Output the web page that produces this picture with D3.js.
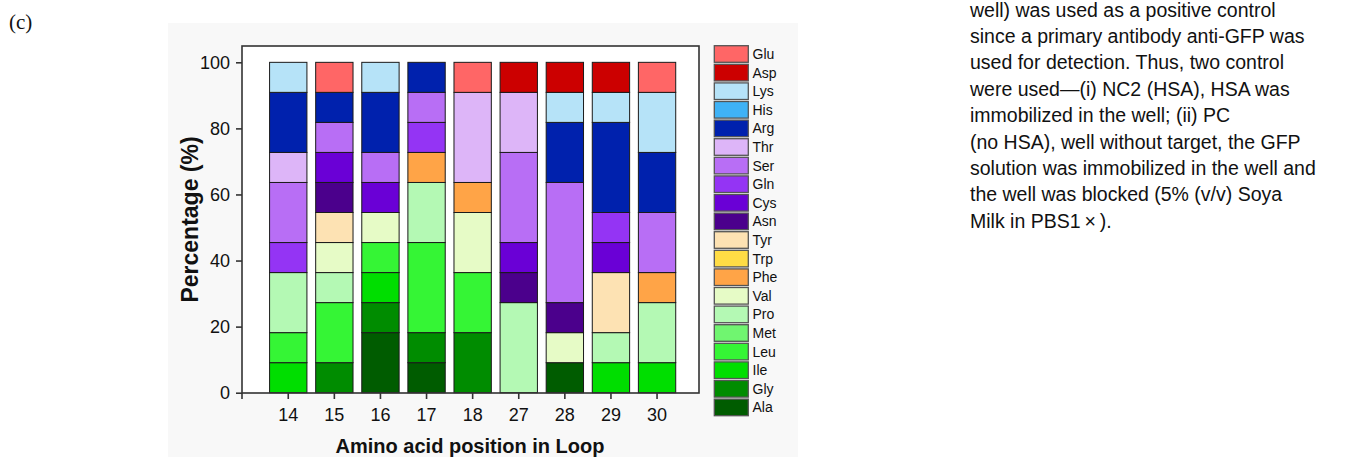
<!DOCTYPE html>
<html><head><meta charset="utf-8">
<script src="https://cdn.jsdelivr.net/npm/d3@7"></script>
<style>body{margin:0;background:#fff;}svg{display:block;}</style>
</head><body>
<svg id="c" width="1354" height="457"></svg>
<script>
// Categories (amino acid positions in loop)
const positions = ["14","15","16","17","18","27","28","29","30"];
// Legend order (top to bottom)
const aminoAcids = ["Glu","Asp","Lys","His","Arg","Thr","Ser","Gln","Cys","Asn","Tyr","Trp","Phe","Val","Pro","Met","Leu","Ile","Gly","Ala"];
const aaColors   = ["#ff6666","#cc0000","#b6e3f8","#3fb2f6","#0021ad","#ddb5f8","#b86ef5","#9434f4","#6a00d6","#4b008c","#fde2b3","#ffdc45","#ffa447","#e6fbc6","#b4f9b4","#70f570","#35f535","#00de00","#008c00","#005c00"];
const yTicks = [0,20,40,60,80,100];

// Percentage (%) per residue at each position
const Ala = [0,0,18.18,9.09,0,0,9.09,0,0];
const Gly = [0,9.09,9.09,9.09,18.18,0,0,0,0];
const Ile = [9.09,0,9.09,0,0,0,0,9.09,9.09];
const Leu = [9.09,18.18,9.09,27.27,18.18,0,0,0,0];
const Met = [0,0,0,0,0,0,0,0,0];
const Pro = [18.18,9.09,0,18.18,0,27.27,0,9.09,18.18];
const Val = [0,9.09,9.09,0,18.18,0,9.09,0,0];
const Phe = [0,0,0,9.09,9.09,0,0,0,9.09];
const Trp = [0,0,0,0,0,0,0,0,0];
const Tyr = [0,9.09,0,0,0,0,0,18.18,0];
const Asn = [0,9.09,0,0,0,9.09,9.09,0,0];
const Cys = [0,9.09,9.09,0,0,9.09,0,9.09,0];
const Gln = [9.09,0,0,9.09,0,0,0,9.09,0];
const Ser = [18.18,9.09,9.09,9.09,0,27.27,36.36,0,18.18];
const Thr = [9.09,0,0,0,27.27,18.18,0,0,0];
const Arg = [18.18,9.09,18.18,9.09,0,0,18.18,27.27,18.18];
const His = [0,0,0,0,0,0,0,0,0];
const Lys = [9.09,0,9.09,0,0,0,9.09,9.09,18.18];
const Asp = [0,0,0,0,0,9.09,9.09,9.09,0];
const Glu = [0,9.09,0,0,9.09,0,0,0,9.09];

const sideText = [
  "well) was used as a positive control",
  "since a primary antibody anti-GFP was",
  "used for detection. Thus, two control",
  "were used\u2014(i) NC2 (HSA), HSA was",
  "immobilized in the well; (ii) PC",
  "(no HSA), well without target, the GFP",
  "solution was immobilized in the well and",
  "the well was blocked (5% (v/v) Soya",
  "Milk in PBS1\u2009\u00d7\u2009)."
];

const seriesValues = {Ala,Gly,Ile,Leu,Met,Pro,Val,Phe,Trp,Tyr,Asn,Cys,Gln,Ser,Thr,Arg,His,Lys,Asp,Glu};
const stackOrder = aminoAcids.slice().reverse(); // bottom to top
const colorOf = d3.scaleOrdinal().domain(aminoAcids).range(aaColors);

const rows = positions.map((p,i)=>{
  const r = {pos:p};
  stackOrder.forEach(a=> r[a] = seriesValues[a][i]);
  return r;
});
const stacked = d3.stack().keys(stackOrder)(rows);

const svg = d3.select("#c");
const font = "'Liberation Sans', Arial, sans-serif";

// figure panel background
svg.append("rect").attr("x",168).attr("y",23).attr("width",630).attr("height",434).attr("fill","#f8f8f8");

const frame = {l:242, r:699, t:46, b:393};
svg.append("rect").attr("x",frame.l).attr("y",frame.t).attr("width",frame.r-frame.l).attr("height",frame.b-frame.t).attr("fill","#fff");

const y = d3.scaleLinear().domain([0,100]).range([392.7,62.3]);
const x = d3.scaleBand().domain(positions).range([265.2,680.1]).paddingInner(0.19).paddingOuter(0.095);

// bars
const g = svg.append("g");
stacked.forEach(s=>{
  g.selectAll(null).data(s.filter(d=>d[1]-d[0]>0)).enter().append("rect")
    .attr("x",d=>x(d.data.pos))
    .attr("width",x.bandwidth())
    .attr("y",d=>y(d[1]))
    .attr("height",d=>y(d[0])-y(d[1]))
    .attr("fill",colorOf(s.key))
    .attr("stroke","#1a1a1a").attr("stroke-width",1);
});

// frame
svg.append("rect").attr("x",frame.l).attr("y",frame.t).attr("width",frame.r-frame.l).attr("height",frame.b-frame.t)
  .attr("fill","none").attr("stroke","#333").attr("stroke-width",1.6);

// y axis
const yAxis = d3.axisLeft(y).tickValues(yTicks).tickSize(6).tickPadding(6);
const ya = svg.append("g").attr("transform",`translate(${frame.l},0)`).call(yAxis);
ya.select(".domain").remove();
ya.selectAll("line").attr("stroke","#333").attr("stroke-width",1.6);
ya.selectAll("text").attr("font-family",font).attr("font-size",18).attr("fill","#111");

// x axis
const xAxis = d3.axisBottom(x).tickSize(6).tickPadding(9);
const xa = svg.append("g").attr("transform",`translate(0,${frame.b})`).call(xAxis);
xa.select(".domain").remove();
xa.selectAll("line").attr("stroke","#333").attr("stroke-width",1.6);
xa.selectAll("text").attr("font-family",font).attr("font-size",18).attr("fill","#111");
svg.append("line").attr("x1",frame.l).attr("x2",frame.l).attr("y1",frame.b).attr("y2",frame.b+6).attr("stroke","#333").attr("stroke-width",1.6);

// axis titles
svg.append("text").attr("x",470).attr("y",453).attr("text-anchor","middle")
  .attr("font-family",font).attr("font-weight","bold").attr("font-size",20).attr("fill","#111")
  .text("Amino acid position in Loop");
svg.append("text").attr("transform",`translate(198,${(frame.t+frame.b)/2}) rotate(-90)`).attr("text-anchor","middle")
  .attr("font-family",font).attr("font-weight","bold").attr("font-size",23).attr("fill","#111")
  .text("Percentage (%)");

// legend
const leg = svg.append("g");
aminoAcids.forEach((a,i)=>{
  const yy = 45.7 + i*18.6;
  leg.append("rect").attr("x",714.3).attr("y",yy).attr("width",34).attr("height",16.6)
    .attr("fill",colorOf(a)).attr("stroke","#555").attr("stroke-width",1.3);
  leg.append("text").attr("x",752.5).attr("y",yy+13.3).attr("font-family",font).attr("font-size",14).attr("fill","#111").text(a);
});

// panel label
svg.append("text").attr("x",9).attr("y",29).attr("font-family","'Liberation Serif', 'Times New Roman', serif").attr("font-size",21).attr("fill","#111").text("(c)");

// side text
svg.append("g").selectAll("text").data(sideText).enter().append("text")
  .attr("x",970).attr("y",(d,i)=>16.5+i*26.4)
  .attr("font-family",font).attr("font-size",19.5).attr("fill","#111").text(d=>d);
</script>
</body></html>
